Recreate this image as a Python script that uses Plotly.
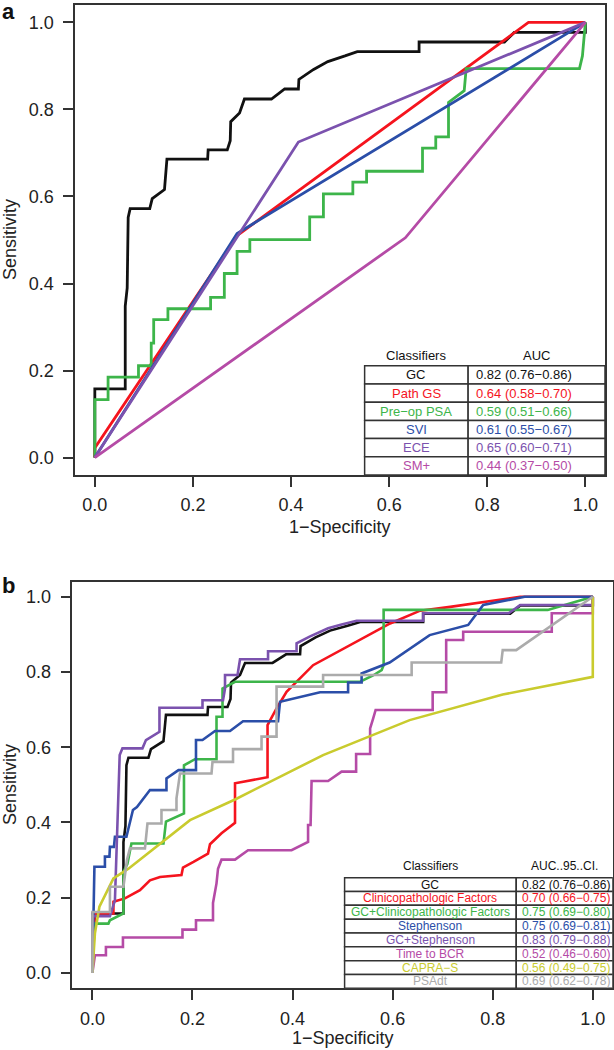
import plotly.graph_objects as go

FONT = "Liberation Sans, Arial, Helvetica, sans-serif"

# ---------------- Panel a data ----------------
a_names = ["GC", "Path GS", "Pre−op PSA", "SVI", "ECE", "SM+"]
a_auc = ["0.82 (0.76−0.86)", "0.64 (0.58−0.70)", "0.59 (0.51−0.66)",
         "0.61 (0.55−0.67)", "0.65 (0.60−0.71)", "0.44 (0.37−0.50)"]
a_colors = ["#111111", "#F5141E", "#3DB54A", "#2B4EA8", "#7B52AE", "#B54BA6"]

gc_x = [0, 0, 0.062, 0.062, 0.066, 0.068, 0.072, 0.112, 0.117, 0.142, 0.147, 0.23, 0.231, 0.27,
        0.276, 0.277, 0.295, 0.305, 0.36, 0.387, 0.415, 0.416, 0.446, 0.475, 0.51, 0.535,
        0.661, 0.661, 0.835, 0.855, 1.0, 1.0]
gc_y = [0, 0.158, 0.158, 0.348, 0.39, 0.552, 0.572, 0.572, 0.595, 0.616, 0.686, 0.686, 0.707, 0.707,
        0.728, 0.772, 0.792, 0.824, 0.824, 0.847, 0.847, 0.869, 0.892, 0.91, 0.923, 0.933,
        0.933, 0.955, 0.955, 0.977, 0.977, 1.0]

pathgs_x = [0, 0, 0.29, 0.884, 1.0]
pathgs_y = [0, 0.022, 0.51, 1.0, 1.0]

psa_x = [0, 0, 0.027, 0.027, 0.089, 0.089, 0.115, 0.115, 0.12, 0.12, 0.149, 0.149, 0.236, 0.236,
         0.264, 0.264, 0.29, 0.29, 0.316, 0.316, 0.438, 0.438, 0.466, 0.466, 0.526, 0.526,
         0.554, 0.554, 0.668, 0.668, 0.695, 0.695, 0.721, 0.721, 0.753, 0.757, 0.988, 0.994, 1.0]
psa_y = [0, 0.133, 0.133, 0.185, 0.185, 0.211, 0.211, 0.263, 0.263, 0.317, 0.317, 0.342, 0.342, 0.368,
         0.368, 0.423, 0.423, 0.474, 0.474, 0.501, 0.501, 0.553, 0.553, 0.606, 0.606, 0.633,
         0.633, 0.658, 0.658, 0.711, 0.711, 0.737, 0.737, 0.816, 0.843, 0.894, 0.894, 0.923, 1.0]

svi_x = [0, 0.29, 1.0]
svi_y = [0, 0.515, 1.0]

ece_x = [0, 0.29, 0.415, 1.0]
ece_y = [0, 0.505, 0.725, 1.0]

sm_x = [0, 0.633, 1.0]
sm_y = [0, 0.505, 1.0]

a_curves = [(gc_x, gc_y), (pathgs_x, pathgs_y), (psa_x, psa_y),
            (svi_x, svi_y), (ece_x, ece_y), (sm_x, sm_y)]

# ---------------- Panel b data ----------------
b_names = ["GC", "Clinicopathologic Factors", "GC+Clinicopathologic Factors", "Stephenson",
           "GC+Stephenson", "Time to BCR", "CAPRA−S", "PSAdt"]
b_auc = ["0.82 (0.76−0.86)", "0.70 (0.66−0.75)", "0.75 (0.69−0.80)", "0.75 (0.69−0.81)",
         "0.83 (0.79−0.88)", "0.52 (0.46−0.60)", "0.56 (0.49−0.75)", "0.69 (0.62−0.78)"]
b_colors = ["#111111", "#F5141E", "#3DB54A", "#2B4EA8", "#7B52AE", "#B54BA6", "#C9CB2E", "#ABABAB"]

clin_x = [0, 0.005, 0.042, 0.042, 0.065, 0.095, 0.115, 0.135, 0.178, 0.181, 0.202, 0.231, 0.235,
          0.258, 0.285, 0.285, 0.35, 0.35, 0.368, 0.388, 0.441, 0.528, 0.595, 0.655, 0.715, 0.855, 1.0]
clin_y = [0, 0.158, 0.158, 0.189, 0.198, 0.22, 0.246, 0.255, 0.26, 0.28, 0.295, 0.317, 0.342,
          0.371, 0.399, 0.504, 0.52, 0.659, 0.703, 0.747, 0.818, 0.88, 0.929, 0.963, 0.973, 1.0, 1.0]

gcclin_x = [0, 0.004, 0.032, 0.035, 0.062, 0.062, 0.07, 0.078, 0.142, 0.147, 0.183, 0.183, 0.205,
            0.248, 0.248, 0.26, 0.26, 0.285, 0.535, 0.56, 0.578, 0.582, 0.582, 0.91, 1.0]
gcclin_y = [0, 0.131, 0.131, 0.14, 0.158, 0.269, 0.29, 0.344, 0.344, 0.402, 0.424, 0.552, 0.568,
            0.568, 0.681, 0.681, 0.756, 0.774, 0.774, 0.79, 0.805, 0.818, 0.965, 0.965, 1.0]

steph_x = [0, 0.004, 0.025, 0.025, 0.034, 0.035, 0.043, 0.045, 0.068, 0.081, 0.089, 0.115, 0.148,
           0.148, 0.172, 0.207, 0.207, 0.22, 0.245, 0.275, 0.301, 0.371, 0.375, 0.455, 0.511,
           0.511, 0.538, 0.538, 0.594, 0.674, 0.751, 0.781, 0.864, 1.0]
steph_y = [0, 0.282, 0.282, 0.309, 0.309, 0.335, 0.335, 0.362, 0.362, 0.433, 0.441, 0.486, 0.486,
           0.517, 0.539, 0.539, 0.619, 0.619, 0.643, 0.643, 0.669, 0.669, 0.721, 0.746, 0.746,
           0.772, 0.772, 0.796, 0.825, 0.898, 0.925, 0.978, 1.0, 1.0]

gcsteph_x = [0, 0, 0.035, 0.045, 0.0485, 0.05, 0.0538, 0.0545, 0.06, 0.1, 0.107, 0.134, 0.134,
             0.22, 0.22, 0.261, 0.265, 0.265, 0.29, 0.295, 0.351, 0.351, 0.408, 0.408, 0.434,
             0.471, 0.498, 0.528, 0.661, 0.661, 0.832, 0.855, 1.0, 1.0]
gcsteph_y = [0, 0.151, 0.151, 0.193, 0.335, 0.388, 0.512, 0.579, 0.597, 0.597, 0.619, 0.641, 0.705,
             0.705, 0.725, 0.725, 0.756, 0.792, 0.792, 0.834, 0.834, 0.855, 0.855, 0.876, 0.894,
             0.916, 0.926, 0.936, 0.936, 0.956, 0.956, 0.978, 0.978, 1.0]

bcr_x = [0, 0.005, 0.027, 0.027, 0.061, 0.061, 0.18, 0.18, 0.207, 0.207, 0.241, 0.241, 0.248,
         0.251, 0.258, 0.285, 0.311, 0.398, 0.431, 0.431, 0.436, 0.438, 0.471, 0.498, 0.527,
         0.527, 0.555, 0.555, 0.561, 0.566, 0.68, 0.68, 0.707, 0.707, 0.741, 0.741, 0.918, 0.918,
         1.0, 1.0]
bcr_y = [0, 0.047, 0.047, 0.069, 0.069, 0.094, 0.094, 0.115, 0.115, 0.14, 0.14, 0.186, 0.238,
         0.277, 0.301, 0.301, 0.326, 0.326, 0.348, 0.393, 0.393, 0.51, 0.51, 0.535, 0.535,
         0.582, 0.582, 0.65, 0.676, 0.699, 0.699, 0.746, 0.746, 0.885, 0.885, 0.907, 0.907, 0.956,
         0.956, 1.0]

capra_x = [0, 0.005, 0.014, 0.042, 0.072, 0.148, 0.195, 0.285, 0.461, 0.634, 0.82, 1.0, 1.0]
capra_y = [0, 0.105, 0.176, 0.251, 0.277, 0.357, 0.406, 0.461, 0.579, 0.672, 0.74, 0.787, 1.0]

psadt_x = [0, 0, 0.035, 0.035, 0.062, 0.069, 0.075, 0.105, 0.11, 0.138, 0.138, 0.168, 0.168,
           0.174, 0.175, 0.238, 0.24, 0.281, 0.281, 0.338, 0.338, 0.368, 0.368, 0.461, 0.461,
           0.638, 0.638, 0.817, 0.82, 0.847, 1.0]
psadt_y = [0, 0.162, 0.162, 0.229, 0.229, 0.30, 0.331, 0.331, 0.397, 0.397, 0.433, 0.433, 0.464,
           0.512, 0.53, 0.53, 0.561, 0.561, 0.595, 0.595, 0.628, 0.628, 0.761, 0.761, 0.792,
           0.792, 0.825, 0.825, 0.858, 0.858, 1.0]

b_curves = [(gc_x, gc_y), (clin_x, clin_y), (gcclin_x, gcclin_y), (steph_x, steph_y),
            (gcsteph_x, gcsteph_y), (bcr_x, bcr_y), (capra_x, capra_y), (psadt_x, psadt_y)]

tick_vals = [0.0, 0.2, 0.4, 0.6, 0.8, 1.0]
tick_text = ["0.0", "0.2", "0.4", "0.6", "0.8", "1.0"]

fig = go.Figure()
for (xs, ys), c, n in zip(a_curves, a_colors, a_names):
    fig.add_trace(go.Scatter(x=xs, y=ys, mode="lines", line=dict(color=c, width=2.8),
                             name=n, xaxis="x", yaxis="y", showlegend=False))
for (xs, ys), c, n in zip(b_curves, b_colors, b_names):
    fig.add_trace(go.Scatter(x=xs, y=ys, mode="lines", line=dict(color=c, width=2.6),
                             name=n, xaxis="x2", yaxis="y2", showlegend=False))

W, H = 614, 1050
def px(v):
    return v / W
def py(v):
    return 1 - v / H

axis_common = dict(showline=True, mirror=True, linecolor="#333333", linewidth=1.5,
                   ticks="outside", ticklen=10, tickwidth=1.5, tickcolor="#333333",
                   tickvals=tick_vals, ticktext=tick_text, showgrid=False, zeroline=False,
                   tickfont=dict(family=FONT, size=18, color="#222222"), range=[-0.04, 1.04])

fig.update_layout(
    width=W, height=H, margin=dict(l=0, r=0, t=0, b=0),
    paper_bgcolor="white", plot_bgcolor="white",
    font=dict(family=FONT),
    xaxis=dict(axis_common, domain=[px(75.2), px(605)], anchor="y", ticklabelstandoff=3),
    yaxis=dict(axis_common, domain=[py(475), py(5)], anchor="x", ticklabelstandoff=6),
    xaxis2=dict(axis_common, domain=[px(72.4), px(612.8)], anchor="y2", ticklabelstandoff=3),
    yaxis2=dict(axis_common, domain=[py(988.3), py(581.7)], anchor="x2", ticklabelstandoff=6,
                range=[-0.041, 1.04]),
)

shapes = []
annotations = []

def add_table(xref, yref, names, aucs, colors, col_x, top, bottom, header_y, headers, fsize, pad):
    n = len(names)
    rh = (top - bottom) / n
    for i in range(n):
        y1 = top - i * rh
        y0 = y1 - rh
        for j in range(2):
            shapes.append(dict(type="rect", xref=xref, yref=yref, x0=col_x[j], x1=col_x[j + 1],
                               y0=y0, y1=y1, line=dict(color="#333333", width=1.5),
                               fillcolor="white", layer="above"))
        yc = (y0 + y1) / 2
        annotations.append(dict(xref=xref, yref=yref, x=(col_x[0] + col_x[1]) / 2, y=yc,
                                text=names[i], showarrow=False, xanchor="center", yanchor="middle",
                                font=dict(family=FONT, size=fsize, color=colors[i])))
        annotations.append(dict(xref=xref, yref=yref, x=col_x[1] + pad, y=yc,
                                text=aucs[i], showarrow=False, xanchor="left", yanchor="middle",
                                font=dict(family=FONT, size=fsize, color=colors[i])))
    for j in range(2):
        annotations.append(dict(xref=xref, yref=yref, x=(col_x[j] + col_x[j + 1]) / 2, y=header_y,
                                text=headers[j], showarrow=False, xanchor="center", yanchor="middle",
                                font=dict(family=FONT, size=fsize, color="#111111")))

add_table("x", "y", a_names, a_auc, a_colors, [0.550, 0.761, 1.04], 0.211, -0.04, 0.235,
          ["Classifiers", "AUC"], 13, 0.012)
add_table("x2", "y2", b_names, b_auc, b_colors, [0.504, 0.847, 1.04], 0.253, -0.041, 0.284,
          ["Classifiers", "AUC..95..CI."], 12, 0.007)

# axis titles and panel labels
for (xc, yc) in [(340, 526.7), (342.8, 1038)]:
    annotations.append(dict(xref="paper", yref="paper", x=px(xc), y=py(yc), text="1−Specificity",
                            showarrow=False, xanchor="center", yanchor="middle",
                            font=dict(family=FONT, size=18, color="#222222")))
for yc in [240, 785]:
    annotations.append(dict(xref="paper", yref="paper", x=px(10), y=py(yc), text="Sensitivity",
                            showarrow=False, xanchor="center", yanchor="middle", textangle=-90,
                            font=dict(family=FONT, size=18, color="#222222")))
for lab, yc in [("a", 11), ("b", 585.3)]:
    annotations.append(dict(xref="paper", yref="paper", x=px(0), y=py(yc), text="<b>%s</b>" % lab,
                            showarrow=False, xanchor="left", yanchor="middle",
                            font=dict(family=FONT, size=22, color="#111111")))

fig.update_layout(shapes=shapes, annotations=annotations)
fig.write_html("out.html", config={"displayModeBar": False},
               post_script="document.body.style.margin='0px';document.body.style.overflow='hidden';")
